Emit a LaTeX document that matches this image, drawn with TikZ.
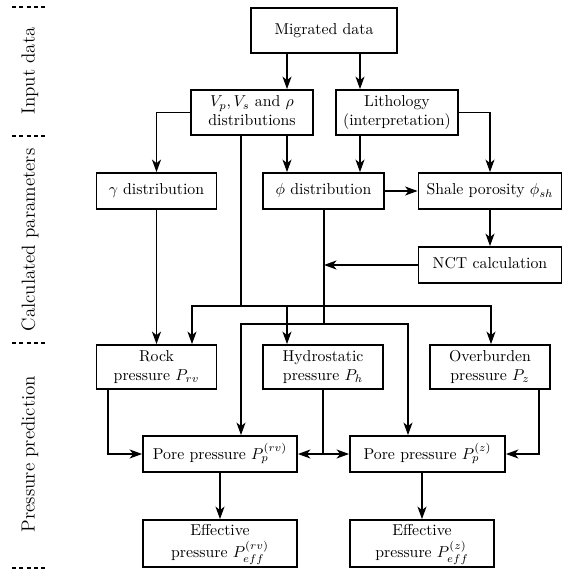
\RequirePackage{fix-cm}
\documentclass[tikz,border=0pt]{standalone}
\usepackage{graphicx}
\usetikzlibrary{arrows.meta}
\newcommand{\BT}[1]{\scalebox{1.58}{\fontsize{10}{12}\selectfont\begin{tabular}{@{}c@{}}#1\end{tabular}}}
\newcommand{\ST}[1]{\scalebox{1.58}{\fontsize{12}{14}\selectfont #1}}
\begin{document}
\begin{tikzpicture}[x=1pt,y=-1pt,
  box/.style={draw,line width=1.8pt,inner sep=0pt,align=center},
  arr/.style={line width=1.5pt,-{Stealth[length=12.5pt,width=9pt,inset=3.5pt]}},
  ln/.style={line width=1.5pt},
  sect/.style={rotate=90,inner sep=0pt},
  sep/.style={line width=1.6pt,dash pattern=on 4pt off 3.3pt}]
\useasboundingbox (0,0) rectangle (564,570);
% boxes
\node[box,minimum width=146pt,minimum height=45pt] (mig) at (324,30.5) {\BT{Migrated data}};
\node[box,minimum width=122pt,minimum height=45pt] (vp) at (252,112.5) {\BT{$V_p, V_s$ and $\rho$\\distributions}};
\node[box,minimum width=122pt,minimum height=45pt] (lith) at (397,112.5) {\BT{Lithology\\(interpretation)}};
\node[box,minimum width=120pt,minimum height=36pt] (gam) at (156.5,191) {\BT{$\gamma$ distribution}};
\node[box,minimum width=121pt,minimum height=36pt] (phi) at (323.5,191) {\BT{$\phi$ distribution}};
\node[box,minimum width=143pt,minimum height=36pt] (shale) at (490,191) {\BT{Shale porosity $\phi_{sh}$}};
\node[box,minimum width=143pt,minimum height=36pt] (nct) at (490,265) {\BT{NCT calculation}};
\node[box,minimum width=120pt,minimum height=44pt] (rock) at (156.5,367) {\BT{Rock\\pressure $P_{rv}$}};
\node[box,minimum width=120pt,minimum height=44pt] (hyd) at (323,367) {\BT{Hydrostatic\\pressure $P_h$}};
\node[box,minimum width=120pt,minimum height=44pt] (over) at (490,367) {\BT{Overburden\\pressure $P_z$}};
\node[box,minimum width=154pt,minimum height=36pt] (porv) at (220,454) {\BT{Pore pressure $P_p^{(rv)}$}};
\node[box,minimum width=155pt,minimum height=36pt] (poz) at (427.5,454) {\BT{Pore pressure $P_p^{(z)}$}};
\node[box,minimum width=154pt,minimum height=47pt] (effrv) at (220,543.5) {\BT{Effective\\pressure $P_{eff}^{(rv)}$}};
\node[box,minimum width=144pt,minimum height=47pt] (effz) at (422,543.5) {\BT{Effective\\pressure $P_{eff}^{(z)}$}};
% section labels
\node[sect] (s1) at (30,71) {\ST{Input data}};
\node[sect] (s2) at (30,240) {\ST{Calculated parameters}};
\node[sect] (s3) at (30,454) {\ST{Pressure prediction}};
\draw[sep] (12,7) -- (47,7);
\draw[sep] (12,136) -- (47,136);
\draw[sep] (12,343) -- (47,343);
\draw[sep] (12,568) -- (47,568);
% levels
\coordinate (lev1) at (0,306);
\coordinate (lev2) at (0,324);
\coordinate (pl) at ([xshift=0.5pt]phi.south);
% connectors
\draw[arr] ([xshift=35pt]vp.north |- mig.south) -- ([xshift=35pt]vp.north);
\draw[arr] ([xshift=-37pt]lith.north |- mig.south) -- ([xshift=-37pt]lith.north);
\draw[arr] (vp.west) -| (gam.north);
\draw[arr] (lith.east) -| (shale.north);
\draw[arr] ([xshift=35pt]vp.south) -- ([xshift=35pt]vp.south |- phi.north);
\draw[arr] ([xshift=-37pt]lith.south) -- ([xshift=-37pt]lith.south |- phi.north);
\draw[arr] (phi) -- (shale);
\draw[arr] (shale) -- (nct);
\draw[arr] (gam) -- (rock);
% bus 1 from Vp
\draw[ln] ([xshift=-11pt]vp.south) -- ([xshift=-11pt]vp.south |- lev1);
\draw[arr] ([xshift=-11pt]vp.south |- lev1) -| ([xshift=35.5pt]rock.north);
\draw[arr] ([xshift=-11pt]vp.south |- lev1) -| ([xshift=1pt]over.north);
\draw[arr] ([xshift=-36pt]hyd.north |- lev1) -- ([xshift=-36pt]hyd.north);
% bus 2 from phi
\draw[ln] (pl) -- (pl |- lev2);
\draw[arr] (pl |- lev2) -| ([xshift=21pt]porv.north);
\draw[arr] (pl |- lev2) -| ([xshift=-19.5pt]poz.north);
\draw[arr] (nct.west) -- (nct.west -| pl);
% pressures
\draw[arr] ([xshift=-48.5pt]rock.south) |- (porv.west);
\draw[ln] (hyd.south) -- (hyd.south |- porv.east);
\draw[arr] (hyd.south |- porv.east) -- (porv.east);
\draw[arr] (hyd.south |- poz.west) -- (poz.west);
\draw[arr] ([xshift=49pt]over.south) |- (poz.east);
\draw[arr] (porv) -- (effrv);
\draw[arr] (poz.south -| effz.north) -- (effz.north);
\end{tikzpicture}
\end{document}
